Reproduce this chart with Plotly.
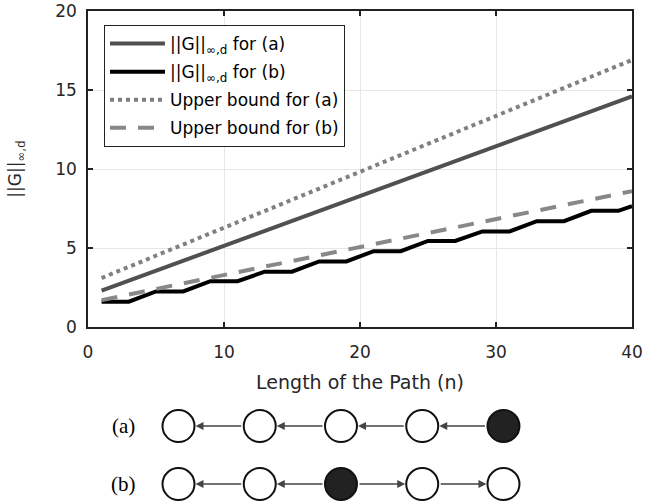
import plotly.graph_objects as go

# ---- data ----
n_line = [1, 40]
g_a = [2.3, 14.6]            # ||G|| for (a)
ub_a = [3.1, 16.9]           # Upper bound for (a)
ub_b = [1.7, 8.6]            # Upper bound for (b)

n_b = [1, 3, 5, 7, 9, 11, 13, 15, 17, 19, 21, 23, 25, 27, 29, 31, 33, 35, 37, 39, 40]
g_b = [1.6, 1.6, 2.25, 2.25, 2.9, 2.9, 3.5, 3.5, 4.15, 4.15, 4.8, 4.8,
       5.45, 5.45, 6.05, 6.05, 6.7, 6.7, 7.35, 7.35, 7.65]

x_ticks = [0, 10, 20, 30, 40]
y_ticks = [0, 5, 10, 15, 20]

# path diagrams
node_idx = [0, 1, 2, 3, 4]
filled_a = [0, 0, 0, 0, 1]
filled_b = [0, 0, 1, 0, 0]
edges_a = [(1, 0), (2, 1), (3, 2), (4, 3)]
edges_b = [(2, 1), (1, 0), (2, 3), (3, 4)]
row_labels = ["(a)", "(b)"]

FONT = "DejaVu Sans, Liberation Sans, Arial, sans-serif"
SERIF = "Liberation Serif, Times New Roman, serif"
SUB = "||G||<sub>∞,d</sub>"

fig = go.Figure()
fig.add_trace(go.Scatter(x=n_line, y=g_a, mode="lines", name=SUB + " for (a)", legendgroup="g1",
                         line=dict(color="#505050", width=4)))
fig.add_trace(go.Scatter(x=n_b, y=g_b, mode="lines", name=SUB + " for (b)", legendgroup="g2",
                         line=dict(color="#000000", width=4)))
fig.add_trace(go.Scatter(x=n_line, y=ub_a, mode="lines", name="Upper bound for (a)",
                         legendgroup="g3", line=dict(color="#808080", width=4, dash="dot")))
fig.add_trace(go.Scatter(x=n_line, y=ub_b, mode="lines", name="Upper bound for (b)",
                         legendgroup="g4", line=dict(color="#888888", width=4, dash="16px,12px")))

# diagram nodes
for row, filled in ((1, filled_a), (0, filled_b)):
    fig.add_trace(go.Scatter(
        x=node_idx, y=[row] * len(node_idx), mode="markers", xaxis="x2", yaxis="y2",
        showlegend=False, hoverinfo="skip", cliponaxis=False,
        marker=dict(size=32, color=["#222222" if f else "white" for f in filled],
                    line=dict(color="#111111", width=2))))

annotations = []
for row, edges in ((1, edges_a), (0, edges_b)):
    for s, t in edges:
        annotations.append(dict(x=t, y=row, ax=s, ay=row, xref="x2", yref="y2",
                                axref="x2", ayref="y2", showarrow=True, text="",
                                arrowhead=2, arrowsize=1, arrowwidth=1.6,
                                arrowcolor="#444444", standoff=17, startstandoff=17))
for row, lab in ((1, row_labels[0]), (0, row_labels[1])):
    annotations.append(dict(x=-0.683, y=row, xref="x2", yref="y2", text=lab,
                            showarrow=False, font=dict(family=SERIF, size=21, color="black")))

axis_common = dict(showline=True, linecolor="#222222", linewidth=1.5, mirror="ticks",
                   ticks="inside", ticklen=5, tickwidth=1.5, tickcolor="#222222",
                   showgrid=True, gridcolor="#e6e6e6", gridwidth=1, zeroline=False,
                   automargin=False,
                   tickfont=dict(family=FONT, size=17, color="#262626"))

fig.update_layout(
    width=657, height=502,
    margin=dict(l=88, r=25, t=11, b=0, autoexpand=False),
    paper_bgcolor="white", plot_bgcolor="white",
    showlegend=True,
    legend=dict(x=0.0294, y=0.9715, xanchor="left", yanchor="top",
                bgcolor="white", bordercolor="#222222", borderwidth=1,
                font=dict(family=FONT, size=17, color="black"),
                tracegroupgap=3, itemwidth=55),
    xaxis=dict(range=[0, 40], tickvals=x_ticks, ticklabelstandoff=9,
               title=dict(text="Length of the Path (n)", standoff=15,
                          font=dict(family=FONT, size=19, color="#262626")),
               anchor="y", **axis_common),
    yaxis=dict(range=[0, 20], tickvals=y_ticks, domain=[0.3564, 1.0], ticklabelstandoff=6,
               title=dict(text=SUB, standoff=29,
                          font=dict(family=FONT, size=17, color="#262626")),
               anchor="x", **axis_common),
    xaxis2=dict(range=[-1.114, 5.582], visible=False, domain=[0, 1], anchor="y2",
                fixedrange=True, automargin=False),
    yaxis2=dict(range=[-0.310, 1.383], visible=False, domain=[0, 0.2], anchor="x2",
                fixedrange=True, automargin=False),
    annotations=annotations,
)

fig.write_html("out.html", config={"displayModeBar": False},
               post_script="document.body.style.margin='0';document.body.style.overflow='hidden';")
